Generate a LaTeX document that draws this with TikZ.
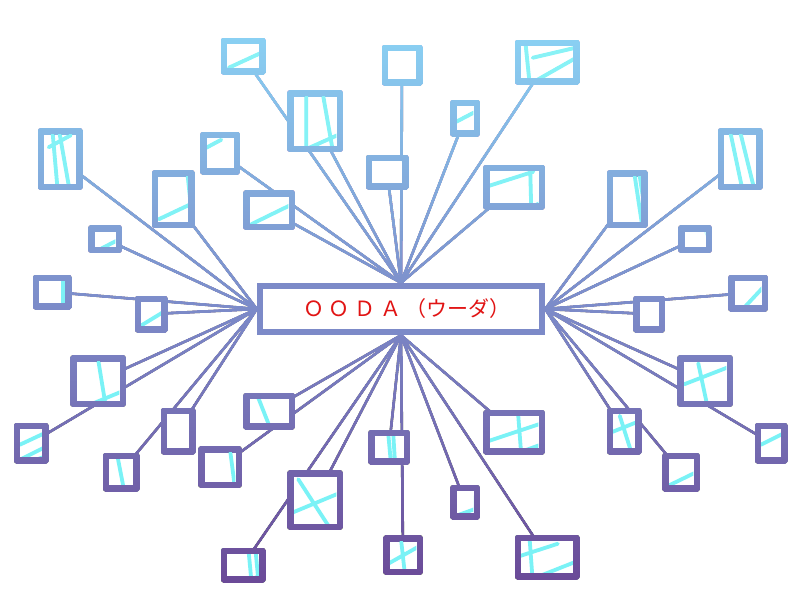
\documentclass[tikz,border=0pt]{standalone}
\usepackage{fontspec}
\usepackage{tikz}
\newfontfamily\jpfont{Noto Sans CJK JP}
\definecolor{SkyTop}{RGB}{138,210,244}
\definecolor{MidBlue}{RGB}{124,138,200}
\definecolor{PlumBottom}{RGB}{106,72,150}
\definecolor{StreakCyan}{RGB}{122,242,246}
\definecolor{TitleRed}{RGB}{225,20,20}
\newcommand{\InkColor}{black}
\newcommand{\Streaks}[2]{%
  \begin{scope}
    \clip ([shift={(3.3,3.3)}]#1.north west) rectangle ([shift={(-3.3,-3.3)}]#1.south east);
    \begin{scope}[shift={(#1.north west)}]
      \draw[streak] #2;
    \end{scope}
  \end{scope}}
\pgfdeclarelayer{background}
\pgfdeclarelayer{foreground}
\pgfsetlayers{background,main,foreground}

\begin{document}
\begin{tikzpicture}[line cap=round,line join=round,x=1.0pt,y=-1.0pt,
  card/.style 2 args={draw=\InkColor,fill=white,line width=6.5pt,inner sep=0pt,
    outer sep=0pt,minimum width={#1pt-6.5pt},minimum height={#2pt-6.5pt}},
  spoke/.style={draw=\InkColor,line width=2.6pt},
  streak/.style={draw=StreakCyan,line width=3.8pt},
  hubbox/.style={draw=MidBlue,fill=white,line width=6.5pt,minimum width=282pt,
    minimum height=46pt,text=TitleRed,font=\jpfont\fontsize{21}{25}\selectfont}]
  \useasboundingbox (0,0) rectangle (800,600);
  \begin{pgfonlayer}{background}
    \fill[white] (0,0) rectangle (800,600);
  \end{pgfonlayer}
  \begin{pgfonlayer}{foreground}
    \node[hubbox] (ooda) at (401,309) {\hspace*{12pt}Ｏ Ｏ Ｄ Ａ （ウーダ）};
  \end{pgfonlayer}
  \coordinate (hubN) at (ooda.north);
  \coordinate (hubW) at (ooda.west);
  \coordinate (hubE) at (ooda.east);
  \coordinate (hubS) at (ooda.south);
  % top
  \node[card={45}{37}] (t1) at (243,56) {};
  \node[card={56}{62}] (t2) at (315,121) {};
  \node[card={41}{41}] (t3) at (402,65) {};
  \node[card={30}{37}] (t4) at (465,118) {};
  \node[card={65}{45}] (t5) at (547,62) {};
  \node[card={43}{35}] (t6) at (387,172) {};
  \node[card={62}{45}] (t7) at (514,187) {};
  \node[card={40}{43}] (t8) at (220,153) {};
  \node[card={52}{40}] (t9) at (269,210) {};
  % left
  \node[card={45}{62}] (l1) at (60,159) {};
  \node[card={43}{58}] (l2) at (173,199) {};
  \node[card={34}{28}] (l3) at (105,239) {};
  \node[card={39}{35}] (l4) at (52,292) {};
  \node[card={33}{37}] (l5) at (151,314) {};
  \node[card={56}{52}] (l6) at (98,381) {};
  \node[card={35}{41}] (l7) at (31,443) {};
  \node[card={35}{47}] (l8) at (178,431) {};
  \node[card={37}{39}] (l9) at (121,472) {};
  % bottom
  \node[card={52}{37}] (b1) at (269,411) {};
  \node[card={44}{42}] (b2) at (220,467) {};
  \node[card={56}{60}] (b3) at (315,500) {};
  \node[card={45}{35}] (b4) at (243,565) {};
  \node[card={42}{35}] (b5) at (389,447) {};
  \node[card={40}{40}] (b6) at (403,555) {};
  \node[card={30}{35}] (b7) at (465,502) {};
  \node[card={62}{45}] (b8) at (514,432) {};
  \node[card={65}{45}] (b9) at (547,557) {};
  % right
  \node[card={45}{62}] (r1) at (740,159) {};
  \node[card={41}{58}] (r2) at (627,199) {};
  \node[card={34}{28}] (r3) at (695,239) {};
  \node[card={40}{37}] (r4) at (748,293) {};
  \node[card={32}{37}] (r5) at (649,314) {};
  \node[card={56}{52}] (r6) at (705,381) {};
  \node[card={33}{41}] (r7) at (771,443) {};
  \node[card={35}{47}] (r8) at (624,431) {};
  \node[card={38}{39}] (r9) at (681,472) {};
  \begin{pgfonlayer}{background}
    \draw[spoke] (hubN) -- (t1);
    \draw[spoke] (hubN) -- (t2);
    \draw[spoke] (hubN) -- (t3);
    \draw[spoke] (hubN) -- (t4);
    \draw[spoke] (hubN) -- (t5);
    \draw[spoke] (hubN) -- (t6);
    \draw[spoke] (hubN) -- (t7);
    \draw[spoke] (hubN) -- (t8);
    \draw[spoke] (hubN) -- (t9);
    \draw[spoke] (hubW) -- (l1);
    \draw[spoke] (hubW) -- (l2);
    \draw[spoke] (hubW) -- (l3);
    \draw[spoke] (hubW) -- (l4);
    \draw[spoke] (hubW) -- (l5);
    \draw[spoke] (hubW) -- (l6);
    \draw[spoke] (hubW) -- (l7);
    \draw[spoke] (hubW) -- (l8);
    \draw[spoke] (hubW) -- (l9);
    \draw[spoke] (hubS) -- (b1);
    \draw[spoke] (hubS) -- (b2);
    \draw[spoke] (hubS) -- (b3);
    \draw[spoke] (hubS) -- (b4);
    \draw[spoke] (hubS) -- (b5);
    \draw[spoke] (hubS) -- (b6);
    \draw[spoke] (hubS) -- (b7);
    \draw[spoke] (hubS) -- (b8);
    \draw[spoke] (hubS) -- (b9);
    \draw[spoke] (hubE) -- (r1);
    \draw[spoke] (hubE) -- (r2);
    \draw[spoke] (hubE) -- (r3);
    \draw[spoke] (hubE) -- (r4);
    \draw[spoke] (hubE) -- (r5);
    \draw[spoke] (hubE) -- (r6);
    \draw[spoke] (hubE) -- (r7);
    \draw[spoke] (hubE) -- (r8);
    \draw[spoke] (hubE) -- (r9);
  \end{pgfonlayer}
  % cyan strokes inside the cards
  \Streaks{t1}{(5,27) -- (42,10)}
  \Streaks{t2}{(16,3) -- (16,60) (33,3) -- (43,60) (18,55) -- (56,38)}
  \Streaks{t3}{(33,3) -- (33,40)}
  \Streaks{t4}{(3,19) -- (28,6)}
  \Streaks{t5}{(8,3) -- (12,42) (15,15) -- (62,4) (18,38) -- (62,13)}
  \Streaks{t6}{(35,2) -- (37,33)}
  \Streaks{t7}{(3,18) -- (47,4) (44,3) -- (45,42) (44,40) -- (60,32)}
  \Streaks{t8}{(3,13) -- (18,5)}
  \Streaks{t9}{(5,31) -- (50,9)}
  \Streaks{l1}{(12,3) -- (17,60) (19,3) -- (29,60) (8,16) -- (30,4)}
  \Streaks{l2}{(33,3) -- (36,32) (4,46) -- (40,29)}
  \Streaks{l3}{(3,24) -- (32,9)}
  \Streaks{l4}{(27,2) -- (27,34)}
  \Streaks{l5}{(3,27) -- (31,10)}
  \Streaks{l6}{(25,2) -- (33,51) (13,48) -- (54,31)}
  \Streaks{l7}{(3,19) -- (33,5) (3,34) -- (33,19) (3,40) -- (33,29)}
  \Streaks{l9}{(12,2) -- (19,38)}
  \Streaks{b1}{(12,2) -- (25,35)}
  \Streaks{b2}{(29,2) -- (34,41)}
  \Streaks{b3}{(8,6) -- (43,60) (3,39) -- (56,17)}
  \Streaks{b4}{(25,2) -- (28,34) (32,2) -- (35,34) (14,34) -- (44,22)}
  \Streaks{b5}{(17,1) -- (20,34) (22,1) -- (24,34)}
  \Streaks{b6}{(1,26) -- (40,4) (15,3) -- (19,39)}
  \Streaks{b7}{(3,28) -- (28,19) (22,8) -- (22,31)}
  \Streaks{b8}{(3,28) -- (60,9) (32,3) -- (35,42) (32,40) -- (60,30)}
  \Streaks{b9}{(12,3) -- (15,44) (3,18) -- (40,6) (15,41) -- (63,22)}
  \Streaks{r1}{(10,3) -- (22,60) (20,3) -- (34,60)}
  \Streaks{r2}{(25,3) -- (33,56) (30,3) -- (38,56)}
  \Streaks{r3}{(25,2) -- (30,27)}
  \Streaks{r4}{(10,33) -- (38,3)}
  \Streaks{r6}{(18,5) -- (28,52) (4,26) -- (53,7)}
  \Streaks{r7}{(3,19) -- (31,5)}
  \Streaks{r8}{(10,5) -- (23,46) (3,21) -- (33,9)}
  \Streaks{r9}{(3,30) -- (36,14)}
  % colour wash over the black ink
  \begin{scope}[blend mode=lighten]
    \shade[top color=SkyTop,bottom color=PlumBottom,middle color=MidBlue] (0,30) rectangle (800,590);
  \end{scope}
\end{tikzpicture}
\end{document}
